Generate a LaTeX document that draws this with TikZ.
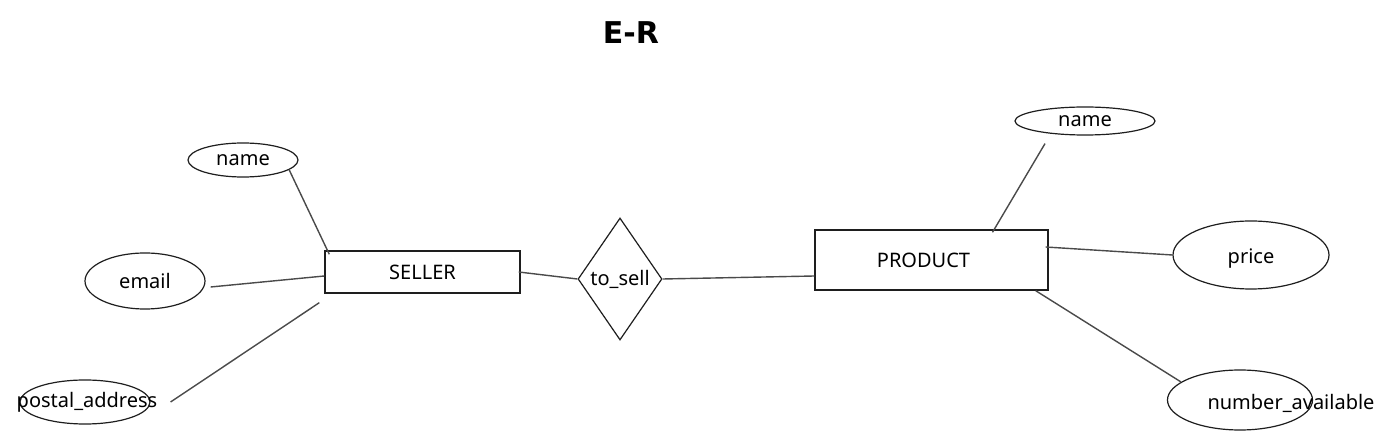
\documentclass[tikz,border=0pt]{standalone}
\usepackage{fontspec}
\setmainfont{Noto Sans}
\newfontfamily\titlefont{DejaVu Sans}
\usetikzlibrary{shapes.geometric}
\definecolor{ink}{HTML}{1E1E1E}
\definecolor{conn}{HTML}{4A4A4A}
\newcommand{\lblfont}{\fontsize{20}{22}\selectfont}
\tikzset{
  entity/.style={draw=ink, line width=1.4pt, rectangle, inner sep=0pt, font=\lblfont},
  attr/.style={draw=ink, line width=1.2pt, ellipse, inner sep=0pt, font=\lblfont},
  rel/.style={draw=ink, line width=1.2pt, diamond, inner sep=0pt},
  conn/.style={draw=conn, line width=1.4pt},
  title/.style={font=\titlefont\bfseries\fontsize{30}{34}\selectfont}
}
\begin{document}
\begin{tikzpicture}[x=1pt,y=-1pt]
\useasboundingbox[fill=white] (0,0) rectangle (1385,435);

\node[title] (ttl) at (631,33) {E-R};

% entities
\node[entity, minimum width=195pt, minimum height=42pt] (seller) at (422.5,272) {SELLER};
\node[entity, minimum width=233pt, minimum height=60pt] (product) at (931.5,260) {\hspace*{-16pt}PRODUCT};

% relationship
\node[rel, minimum width=84pt, minimum height=122pt, label={center:{\lblfont to\_sell}}] (rel) at (620,279) {};

% seller attributes
\node[attr, minimum width=110pt, minimum height=34pt] (sname) at (243,160) {name};
\node[attr, minimum width=120pt, minimum height=56pt] (email) at (145,281) {email};
\node[attr, minimum width=130pt, minimum height=44pt,
      label={[xshift=2pt]center:{\lblfont postal\_address}}] (postal) at (85,402) {};

% product attributes
\node[attr, minimum width=140pt, minimum height=28pt] (pname) at (1085,121) {name};
\node[attr, minimum width=156pt, minimum height=68pt,
      label={[yshift=-4pt]center:{\lblfont price}}] (price) at (1251,255) {};
\node[attr, minimum width=145pt, minimum height=60pt,
      label={[xshift=51pt,yshift=-3pt]center:{\lblfont number\_available}}] (navail) at (1240,400) {};

% connectors
\draw[conn] (sname.-12) -- ([shift={(5pt,-4pt)}]seller.north west);
\draw[conn] ([shift={(5pt,-6pt)}]email.east) -- ([yshift=-4pt]seller.west);
\draw[conn] ([xshift=20pt]postal.east) -- ([shift={(-5pt,-9pt)}]seller.south west);
\draw[conn] ([xshift=-2pt]seller.east) -- (rel.west);
\draw[conn] (rel.east) -- ([yshift=-16pt]product.west);
\draw[conn] ([shift={(-40pt,-8pt)}]pname.south) -- ([shift={(61pt,-3pt)}]product.north);
\draw[conn] ([shift={(-3pt,13pt)}]product.east) -- (price.west);
\draw[conn] ([xshift=-13pt]product.south east) -- (navail.163);
\end{tikzpicture}
\end{document}
